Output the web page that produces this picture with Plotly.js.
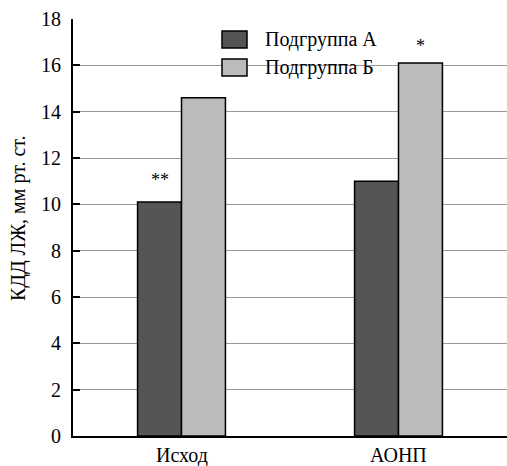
<!DOCTYPE html>
<html><head><meta charset="utf-8">
<script src="https://cdn.plot.ly/plotly-3.0.1.min.js"></script>
<style>html,body{margin:0;padding:0;background:#fff}</style>
</head><body><div id="chart"></div>
<script>
const categories = ["Исход", "АОНП"];
const seriesNames = ["Подгруппа А", "Подгруппа Б"];
const valuesA = [10.1, 11.0];
const valuesB = [14.6, 16.1];
const starsA = ["**", ""];
const starsB = ["", "*"];
const yTicks = [0, 2, 4, 6, 8, 10, 12, 14, 16, 18];
const yTitle = "КДД ЛЖ, мм рт. ст.";

const FONT = "Liberation Serif";
const colors = ["#555555", "#bbbbbb"];
const PW = 434, PH = 417; // plot area size in px

const traces = [
  {type: "bar", x: categories, y: valuesA, name: seriesNames[0],
   marker: {color: colors[0], line: {color: "#000", width: 1.5}}, showlegend: false},
  {type: "bar", x: categories, y: valuesB, name: seriesNames[1],
   marker: {color: colors[1], line: {color: "#000", width: 1.5}}, showlegend: false}
];

const annotations = [];
categories.forEach((c, i) => {
  if (starsA[i]) annotations.push({x: c, y: valuesA[i], text: starsA[i], showarrow: false,
    xshift: -22, yshift: 22, font: {family: FONT, size: 18, color: "#000"}});
  if (starsB[i]) annotations.push({x: c, y: valuesB[i], text: starsB[i], showarrow: false,
    xshift: 22, yshift: 17, font: {family: FONT, size: 18, color: "#000"}});
});
yTicks.forEach(v => annotations.push({xref: "paper", yref: "y", x: -10 / PW, y: v,
  xanchor: "right", yanchor: "middle", text: String(v), showarrow: false,
  font: {family: FONT, size: 20, color: "#000"}}));
categories.forEach(c => annotations.push({xref: "x", yref: "paper", x: c, y: 0,
  xanchor: "center", yanchor: "top", yshift: -6, text: c, showarrow: false,
  font: {family: FONT, size: 20, color: "#000"}}));
annotations.push({xref: "paper", yref: "paper", x: -54 / PW, y: 1 - 199 / PH,
  xanchor: "center", yanchor: "middle", textangle: -90, text: yTitle, showarrow: false,
  font: {family: FONT, size: 20, color: "#000"}});
const shapes = [];
seriesNames.forEach((n, i) => {
  const yTop = 1 - (12 + i * 28) / PH;
  const yBot = 1 - (29 + i * 28) / PH;
  shapes.push({type: "rect", xref: "paper", yref: "paper",
    x0: 149 / PW, x1: 174 / PW, y0: yBot, y1: yTop,
    fillcolor: colors[i], line: {color: "#000", width: 1.5}});
  annotations.push({xref: "paper", yref: "paper", x: 190 / PW, y: (yTop + yBot) / 2,
    xanchor: "left", yanchor: "middle", text: n, showarrow: false,
    font: {family: FONT, size: 20, color: "#000"}});
});
shapes.unshift({type: "rect", xref: "paper", yref: "paper", layer: "below",
  x0: 144 / PW, x1: 312 / PW, y0: 1 - 62 / PH, y1: 1 - 5 / PH,
  fillcolor: "#fff", line: {width: 0}});

const layout = {
  width: 507, height: 466,
  margin: {l: 73, r: 0, t: 19, b: 30},
  paper_bgcolor: "#fff", plot_bgcolor: "#fff",
  font: {family: FONT, size: 18, color: "#000"},
  barmode: "group", bargap: 0.595, bargroupgap: 0,
  xaxis: {type: "category", showline: true, linecolor: "#000", linewidth: 1.5,
    ticks: "", showticklabels: false, showgrid: false, zeroline: false},
  yaxis: {range: [0, 18], tickvals: yTicks, showticklabels: false,
    showline: true, linecolor: "#000", linewidth: 1.5, ticks: "inside", ticklen: 7,
    tickwidth: 1.5, tickcolor: "#000",
    showgrid: true, gridcolor: "#999", gridwidth: 1, zeroline: false},
  shapes: shapes, annotations: annotations
};
Plotly.newPlot("chart", traces, layout, {displayModeBar: false});
</script></body></html>
